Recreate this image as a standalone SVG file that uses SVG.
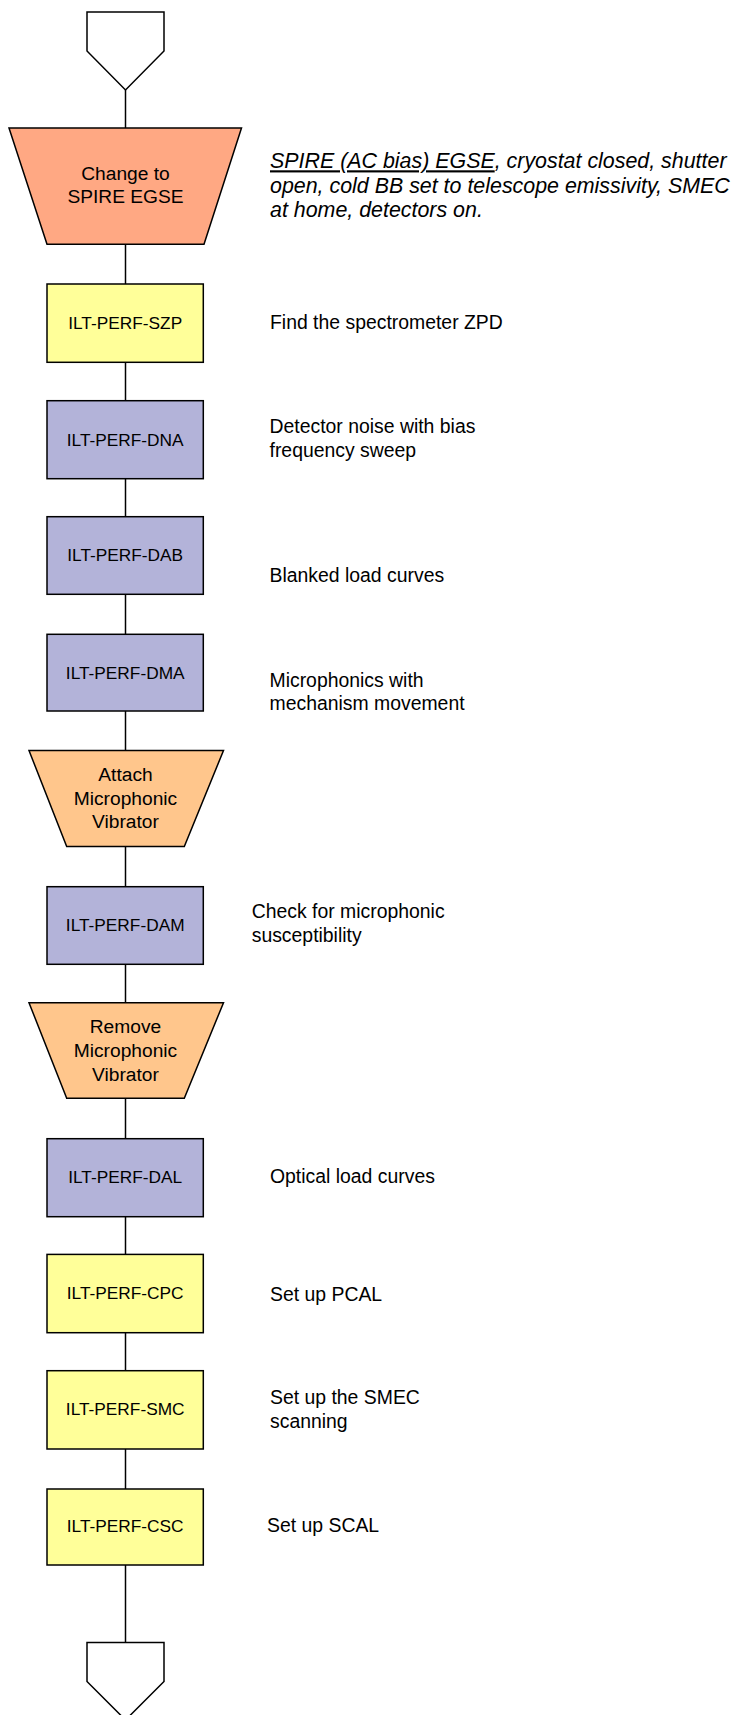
<svg xmlns="http://www.w3.org/2000/svg" width="737" height="1715" viewBox="0 0 737 1715">
<style>
  .shape { stroke: #000; stroke-width: 1.5; stroke-linejoin: miter; }
  .term { fill: #fff; }
  .egse { fill: #FFA883; }
  .act { fill: #FFC68C; }
  .setup { fill: #FFFF99; }
  .det { fill: #B3B3D9; }
  .lbl { font-family: "Liberation Sans", Arial, sans-serif; font-size: 17.3px; fill: #000; text-anchor: middle; }
  .tlbl { font-family: "Liberation Sans", Arial, sans-serif; font-size: 19.2px; fill: #000; text-anchor: middle; }
  .desc { font-family: "Liberation Sans", Arial, sans-serif; font-size: 19.4px; fill: #000; }
  .note { font-family: "Liberation Sans", Arial, sans-serif; font-size: 21.4px; font-style: italic; fill: #000; }
  .conn { stroke: #000; stroke-width: 1.5; fill: none; }
</style>

<g id="connectors">
  <line class="conn" x1="125.5" y1="90" x2="125.5" y2="128"/>
  <line class="conn" x1="125.5" y1="244" x2="125.5" y2="284"/>
  <line class="conn" x1="125.5" y1="362" x2="125.5" y2="401"/>
  <line class="conn" x1="125.5" y1="479" x2="125.5" y2="517"/>
  <line class="conn" x1="125.5" y1="594" x2="125.5" y2="634"/>
  <line class="conn" x1="125.5" y1="711" x2="125.5" y2="750.5"/>
  <line class="conn" x1="125.5" y1="846.5" x2="125.5" y2="887"/>
  <line class="conn" x1="125.5" y1="964" x2="125.5" y2="1003"/>
  <line class="conn" x1="125.5" y1="1098" x2="125.5" y2="1139"/>
  <line class="conn" x1="125.5" y1="1217" x2="125.5" y2="1255"/>
  <line class="conn" x1="125.5" y1="1333" x2="125.5" y2="1371"/>
  <line class="conn" x1="125.5" y1="1449" x2="125.5" y2="1489"/>
  <line class="conn" x1="125.5" y1="1565" x2="125.5" y2="1642.5"/>
</g>

<g id="start">
  <polygon class="shape term" points="87,12 164,12 164,51 125.5,90 87,51"/>
</g>

<g id="change-egse">
  <polygon class="shape egse" points="9,128 241.5,128 204,244.3 47,244.3"/>
  <text class="tlbl" x="125.5" y="180">Change to</text>
  <text class="tlbl" x="125.5" y="203.3">SPIRE EGSE</text>
</g>
<g id="note-egse">
  <text class="note" x="270" y="168.3"><tspan text-decoration="underline">SPIRE (AC bias) EGSE</tspan>, cryostat closed, shutter</text>
  <text class="note" x="270" y="192.7">open, cold BB set to telescope emissivity, SMEC</text>
  <text class="note" x="270" y="217.3">at home, detectors on.</text>
</g>

<g id="szp">
  <rect class="shape setup" x="47" y="284" width="156.3" height="78.3"/>
  <text class="lbl" x="125.2" y="328.5">ILT-PERF-SZP</text>
  <text class="desc" x="270" y="329.3">Find the spectrometer ZPD</text>
</g>

<g id="dna">
  <rect class="shape det" x="47" y="400.7" width="156.3" height="78"/>
  <text class="lbl" x="125.2" y="446">ILT-PERF-DNA</text>
  <text class="desc" x="269.5" y="432.7">Detector noise with bias</text>
  <text class="desc" x="269.5" y="456.7">frequency sweep</text>
</g>

<g id="dab">
  <rect class="shape det" x="47" y="516.7" width="156.3" height="77.6"/>
  <text class="lbl" x="125.2" y="560.7">ILT-PERF-DAB</text>
  <text class="desc" x="269.5" y="582.3">Blanked load curves</text>
</g>

<g id="dma">
  <rect class="shape det" x="47" y="634.3" width="156.3" height="76.7"/>
  <text class="lbl" x="125.2" y="679">ILT-PERF-DMA</text>
  <text class="desc" x="269.5" y="686.7">Microphonics with</text>
  <text class="desc" x="269.5" y="709.5">mechanism movement</text>
</g>

<g id="attach">
  <polygon class="shape act" points="29,750.5 223.5,750.5 184.3,846.5 66.7,846.5"/>
  <text class="tlbl" x="125.5" y="780.7">Attach</text>
  <text class="tlbl" x="125.5" y="805">Microphonic</text>
  <text class="tlbl" x="125.5" y="828.3">Vibrator</text>
</g>

<g id="dam">
  <rect class="shape det" x="47" y="886.7" width="156.3" height="77.6"/>
  <text class="lbl" x="125.2" y="930.7">ILT-PERF-DAM</text>
  <text class="desc" x="251.7" y="918.3">Check for microphonic</text>
  <text class="desc" x="251.7" y="942.3">susceptibility</text>
</g>

<g id="remove">
  <polygon class="shape act" points="29,1002.7 223.5,1002.7 184.3,1098.3 66.7,1098.3"/>
  <text class="tlbl" x="125.5" y="1032.7">Remove</text>
  <text class="tlbl" x="125.5" y="1057.3">Microphonic</text>
  <text class="tlbl" x="125.5" y="1081">Vibrator</text>
</g>

<g id="dal">
  <rect class="shape det" x="47" y="1138.7" width="156.3" height="78"/>
  <text class="lbl" x="125.2" y="1182.7">ILT-PERF-DAL</text>
  <text class="desc" x="270" y="1182.7">Optical load curves</text>
</g>

<g id="cpc">
  <rect class="shape setup" x="47" y="1254.4" width="156.3" height="78.3"/>
  <text class="lbl" x="125.2" y="1299.3">ILT-PERF-CPC</text>
  <text class="desc" x="270" y="1301.3">Set up PCAL</text>
</g>

<g id="smc">
  <rect class="shape setup" x="47" y="1370.7" width="156.3" height="78.3"/>
  <text class="lbl" x="125.2" y="1414.5">ILT-PERF-SMC</text>
  <text class="desc" x="270" y="1404.3">Set up the SMEC</text>
  <text class="desc" x="270" y="1427.7">scanning</text>
</g>

<g id="csc">
  <rect class="shape setup" x="47" y="1489" width="156.3" height="76"/>
  <text class="lbl" x="125.2" y="1532.3">ILT-PERF-CSC</text>
  <text class="desc" x="267" y="1532.3">Set up SCAL</text>
</g>

<g id="end">
  <polygon class="shape term" points="87,1642.5 164,1642.5 164,1681.5 125.5,1720 87,1681.5"/>
</g>
</svg>
